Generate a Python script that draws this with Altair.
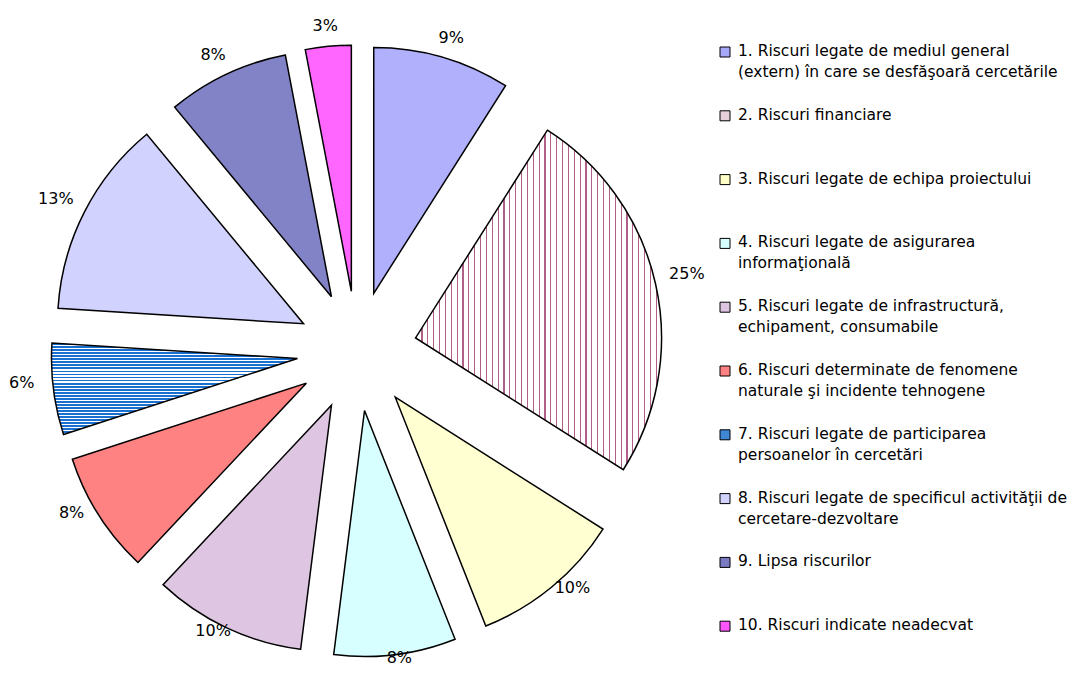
import altair as alt
import pandas as pd

# ---------------- data ----------------
categories = [
    "1. Riscuri legate de mediul general\n(extern)  în care se desfăşoară cercetările",
    "2. Riscuri financiare",
    "3. Riscuri legate de echipa proiectului",
    "4. Riscuri legate de asigurarea\ninformaţională",
    "5. Riscuri legate de infrastructură,\nechipament, consumabile",
    "6. Riscuri determinate de fenomene\nnaturale şi incidente tehnogene",
    "7. Riscuri legate de participarea\npersoanelor în cercetări",
    "8. Riscuri legate de specificul activităţii de\ncercetare-dezvoltare",
    "9. Lipsa riscurilor",
    "10. Riscuri indicate neadecvat",
]
values = [9, 25, 10, 8, 10, 8, 6, 13, 8, 3]
pct_labels = ["9%", "25%", "10%", "8%", "10%", "8%", "6%", "13%", "8%", "3%"]

# ---------------- styles ----------------
FONT = "DejaVu Sans"
CX, CY = 349, 343      # pie centre (px in plot area)
R = 246                # pie radius
D = 60                 # explode distance
LRX, LRY = 338, 318    # label radii
LCY = 335              # label ellipse centre y
LEG_X_SQ, LEG_X_TXT = 717, 730
LEG_Y0, LEG_DY = 44, 63.8


def stripes(bg, line, n, frac, vertical=True):
    stops = []
    for k in range(n):
        o0, o1, o2 = k / n, (k + frac) / n, (k + 1) / n
        stops += [
            {"offset": o0, "color": line},
            {"offset": o1, "color": line},
            {"offset": o1, "color": bg},
            {"offset": o2, "color": bg},
        ]
    return {
        "gradient": "linear",
        "x1": 0, "y1": 0,
        "x2": 1 if vertical else 0,
        "y2": 0 if vertical else 1,
        "stops": stops,
    }


slice_fills = [
    "#B0B0FC",
    stripes("#FFFFFF", "#B06088", 42, 0.2, vertical=True),
    "#FFFFD2",
    "#D8FFFF",
    "#DEC6E2",
    "#FF8282",
    stripes("#FFFFFF", "#1A70D0", 30, 0.6, vertical=False),
    "#D2D2FF",
    "#8282C6",
    "#FF66FF",
]
legend_fills = ["#A8A8FA", "#E6CFD9", "#FFFFC8", "#D8FFFF", "#DEC6E2",
                "#FF8282", "#3F86D4", "#D2D2FF", "#7A7AC2", "#FF55FF"]

df = pd.DataFrame({
    "idx": list(range(1, len(values) + 1)),
    "value": values,
    "label": categories,
    "pct": pct_labels,
})

base = (
    alt.Chart(df)
    .transform_joinaggregate(total="sum(value)")
    .transform_window(cum="sum(value)", sort=[alt.SortField("idx")], frame=[None, 0])
    .transform_calculate(a0="(datum.cum - datum.value) / datum.total * 2 * PI")
    .transform_calculate(a1="datum.cum / datum.total * 2 * PI")
    .transform_calculate(mid="(datum.a0 + datum.a1) / 2")
    .transform_calculate(cx=f"{CX} + {D} * sin(datum.mid)")
    .transform_calculate(cy=f"{CY} - {D} * cos(datum.mid)")
    .transform_calculate(lx=f"{CX} + {LRX} * sin(datum.mid)")
    .transform_calculate(ly=f"{LCY} - {LRY} * cos(datum.mid)")
    .transform_calculate(legy=f"{LEG_Y0} + {LEG_DY} * (datum.idx - 1)")
)

layers = []
for i, f in enumerate(slice_fills, start=1):
    layers.append(
        base.transform_filter(f"datum.idx == {i}")
        .mark_arc(radius=R, fill=f, stroke="black", strokeWidth=1.5, strokeJoin="miter")
        .encode(
            theta=alt.Theta("a0:Q", scale=None, stack=None),
            theta2="a1:Q",
            x=alt.X("cx:Q", scale=None),
            y=alt.Y("cy:Q", scale=None),
        )
    )

pct_text = base.mark_text(font=FONT, fontSize=16, color="black", align="center",
                          baseline="middle").encode(
    x=alt.X("lx:Q", scale=None),
    y=alt.Y("ly:Q", scale=None),
    text="pct:N",
)

legend_sq = base.mark_square(size=100, stroke="black", strokeWidth=1, opacity=1).encode(
    x=alt.value(LEG_X_SQ),
    y=alt.Y("legy:Q", scale=None),
    fill=alt.Fill("idx:O", scale=alt.Scale(domain=df["idx"].tolist(), range=legend_fills),
                  legend=None),
)

legend_txt = base.transform_calculate(legt="datum.legy - 8").mark_text(
    font=FONT, fontSize=15.5, color="black", align="left", baseline="top",
    lineBreak="\n", lineHeight=21,
).encode(
    x=alt.value(LEG_X_TXT),
    y=alt.Y("legt:Q", scale=None),
    text="label:N",
)

chart = (
    alt.layer(*layers, pct_text, legend_sq, legend_txt)
    .properties(width=1065, height=659, padding=0,
                autosize=alt.AutoSizeParams(type="fit", contains="padding"))
    .configure_view(stroke=None)
)

chart.save("out.html", embed_options={"renderer": "svg", "actions": False})
